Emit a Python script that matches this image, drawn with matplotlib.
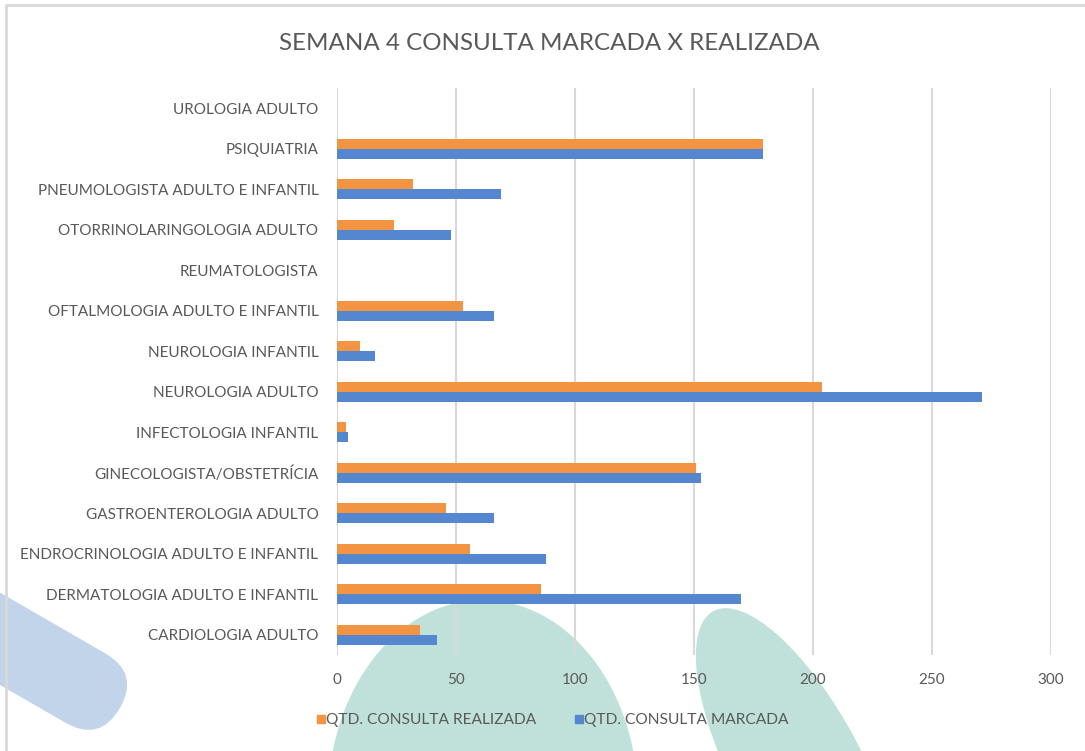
import numpy as np
import matplotlib.pyplot as plt
from matplotlib.patches import Ellipse, FancyBboxPatch
from matplotlib.lines import Line2D
from matplotlib.transforms import Affine2D

# data (bottom to top, as in the chart)
categories = [
    "CARDIOLOGIA ADULTO",
    "DERMATOLOGIA ADULTO E INFANTIL",
    "ENDROCRINOLOGIA ADULTO E INFANTIL",
    "GASTROENTEROLOGIA ADULTO",
    "GINECOLOGISTA/OBSTETRÍCIA",
    "INFECTOLOGIA INFANTIL",
    "NEUROLOGIA ADULTO",
    "NEUROLOGIA INFANTIL",
    "OFTALMOLOGIA ADULTO E INFANTIL",
    "REUMATOLOGISTA",
    "OTORRINOLARINGOLOGIA ADULTO",
    "PNEUMOLOGISTA ADULTO E INFANTIL",
    "PSIQUIATRIA",
    "UROLOGIA ADULTO",
]
realizada = [35, 86, 56, 46, 151, 4, 204, 10, 53, 0, 24, 32, 179, 0]
marcada = [42, 170, 88, 66, 153, 5, 271, 16, 66, 0, 48, 69, 179, 0]
x_ticks = [0, 50, 100, 150, 200, 250, 300]

ORANGE = "#f29441"
BLUE = "#5587d0"
TEXT = "#595959"
GRID = "#d9d9d9"

plt.rcParams["font.family"] = ["Lato", "DejaVu Sans"]

W, H = 1085, 751
fig = plt.figure(figsize=(W / 100, H / 100), dpi=100)

# background decoration (frame and soft shapes)
bg = fig.add_axes([0, 0, 1, 1], zorder=0)
bg.set_xlim(0, W)
bg.set_ylim(H, 0)
bg.axis("off")
L, w = 300, 80
capsule = FancyBboxPatch((-L / 2, -w / 2), L, w,
                         boxstyle=f"round,pad=0,rounding_size={w / 2}",
                         color="#c2d4e9", lw=0)
capsule.set_transform(Affine2D().rotate_deg(30).translate(-10, 633) + bg.transData)
bg.add_patch(capsule)
bg.add_patch(Ellipse((483, 800), 310, 400, angle=0, color="#c0e1d9", lw=0))
bg.add_patch(Ellipse((798, 770), 130, 360, angle=-28, color="#c0e1d9", lw=0))
bg.plot([6, 6, W], [H, 5, 5], color=GRID, lw=2)

ax = fig.add_axes([336.5 / W, 1 - 655 / H, (1051 - 336.5) / W, (655 - 88) / H], zorder=1)
ax.patch.set_alpha(0)

y = np.arange(len(categories))
h = 0.25
ax.barh(y + h / 2, realizada, height=h, color=ORANGE, label="QTD. CONSULTA REALIZADA", zorder=3)
ax.barh(y - h / 2, marcada, height=h, color=BLUE, label="QTD. CONSULTA MARCADA", zorder=3)

ax.set_xlim(0, 300)
ax.set_ylim(-0.5, len(categories) - 0.5)
ax.set_xticks(x_ticks)
ax.set_yticks(y)
ax.set_yticklabels(categories)
ax.grid(axis="x", color=GRID, lw=1.5, zorder=0)
ax.tick_params(length=0, colors=TEXT, labelsize=11)
ax.tick_params(axis="y", pad=13)
ax.tick_params(axis="x", pad=13)
for s in ax.spines.values():
    s.set_visible(False)

fig.text(549 / W, 1 - 44 / H, "SEMANA 4 CONSULTA MARCADA X REALIZADA",
         ha="center", va="center", fontsize=17.4, color=TEXT)

handles = [
    Line2D([], [], marker="s", ls="", color=ORANGE, markersize=6),
    Line2D([], [], marker="s", ls="", color=BLUE, markersize=6),
]
fig.legend(handles, ["QTD. CONSULTA REALIZADA", "QTD. CONSULTA MARCADA"],
           loc="center", bbox_to_anchor=(552 / W, 1 - 720 / H), ncol=2,
           frameon=False, fontsize=11.2, labelcolor=TEXT, handletextpad=0.0,
           columnspacing=2.4, handlelength=0.7)

fig.savefig("out.png", dpi=100)
